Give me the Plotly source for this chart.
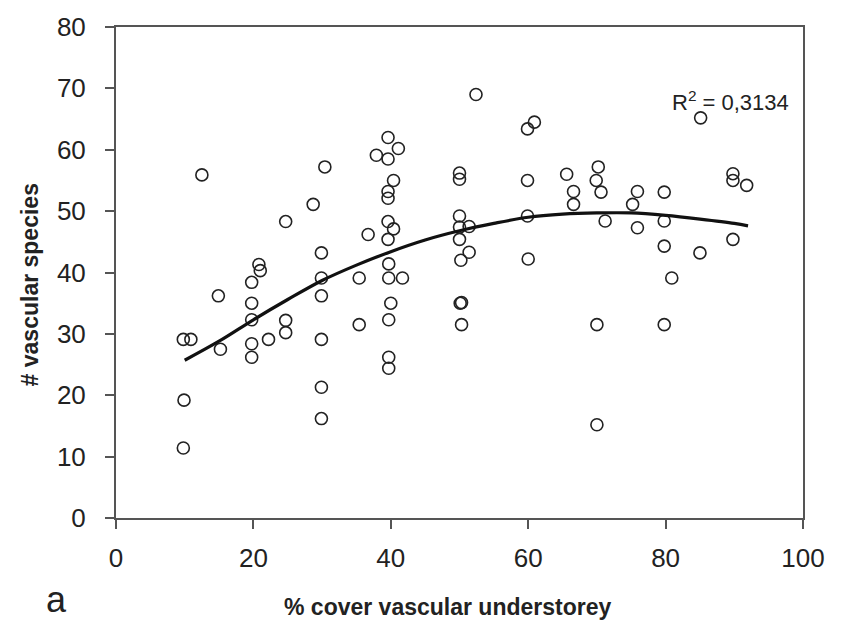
import plotly.graph_objects as go

# % cover vascular understorey (x) and # vascular species (y)
cover = [9.8, 9.9, 9.8, 10.9, 12.5, 14.9, 15.2, 19.75, 20.8, 21.0,
         19.75, 19.75, 19.75, 19.75, 22.2, 24.7, 24.7, 24.7, 28.7, 30.4,
         29.9, 29.9, 29.9, 29.9, 29.9, 29.9, 35.4, 35.4, 36.7, 37.9,
         39.6, 39.6, 41.1, 40.4, 39.6, 39.6, 39.6, 40.4, 39.6, 39.7,
         39.7, 41.7, 40.0, 39.7, 39.7, 39.7, 50.0, 50.0, 50.0, 50.0,
         51.4, 50.0, 51.4, 50.2, 50.1, 50.3, 50.3, 52.4, 60.9, 59.9,
         59.9, 59.9, 60.0, 65.6, 66.6, 66.6, 70.2, 69.9, 70.6, 71.2,
         70.0, 70.0, 75.9, 75.2, 75.9, 79.8, 79.8, 79.8, 80.9, 79.8,
         85.1, 85.0, 89.8, 89.8, 91.8, 89.8]
species = [11.4, 19.2, 29.1, 29.1, 55.9, 36.2, 27.5, 38.4, 41.3, 40.3,
           35.0, 32.3, 28.4, 26.2, 29.1, 48.3, 32.2, 30.2, 51.1, 57.2,
           43.2, 39.1, 36.2, 29.1, 21.3, 16.2, 39.1, 31.5, 46.2, 59.1,
           62.0, 58.5, 60.2, 55.0, 53.2, 52.1, 48.3, 47.1, 45.4, 41.4,
           39.1, 39.1, 35.0, 32.3, 26.2, 24.4, 56.2, 55.2, 49.2, 47.4,
           47.5, 45.4, 43.3, 42.0, 35.0, 35.1, 31.5, 69.0, 64.5, 63.4,
           55.0, 49.2, 42.2, 56.0, 53.2, 51.1, 57.2, 55.0, 53.1, 48.4,
           31.5, 15.2, 53.2, 51.1, 47.3, 53.1, 48.4, 44.3, 39.1, 31.5,
           65.2, 43.2, 56.1, 55.0, 54.2, 45.4]

# trend line
trend_x = [10, 15, 20, 25, 30, 35, 40, 45, 50, 55, 60, 65, 70, 75, 80, 85, 90, 92]
trend_y = [25.7, 28.8, 32.3, 35.6, 38.7, 41.2, 43.4, 45.3, 46.8, 48.0,
           49.0, 49.5, 49.7, 49.7, 49.3, 48.7, 48.0, 47.6]

x_ticks = [0, 20, 40, 60, 80, 100]
y_ticks = [0, 10, 20, 30, 40, 50, 60, 70, 80]

FONT = "Liberation Sans, Arial, sans-serif"
AX = "#555555"

fig = go.Figure()
fig.add_trace(go.Scatter(
    x=cover, y=species, mode="markers",
    marker=dict(symbol="circle-open", size=12, color="#222222",
                line=dict(width=1.6, color="#222222")),
    showlegend=False, hoverinfo="skip"))
fig.add_trace(go.Scatter(
    x=trend_x, y=trend_y, mode="lines",
    line=dict(color="#111111", width=3.2, shape="spline"),
    showlegend=False, hoverinfo="skip"))

fig.update_layout(
    width=843, height=625,
    margin=dict(l=116, r=40, t=22, b=107),
    paper_bgcolor="white", plot_bgcolor="white",
    font=dict(family=FONT, color="#222222"),
    xaxis=dict(range=[0, 100], tickvals=x_ticks, showgrid=False, zeroline=False,
               showline=True, linecolor=AX, linewidth=2, mirror=True,
               ticks="outside", ticklen=9, tickwidth=2, tickcolor=AX,
               tickfont=dict(size=26, family=FONT, color="#222222"),
               ticklabelstandoff=7),
    yaxis=dict(range=[0, 80], tickvals=y_ticks, showgrid=False, zeroline=False,
               showline=True, linecolor=AX, linewidth=2, mirror=True,
               ticks="outside", ticklen=9, tickwidth=2, tickcolor=AX,
               tickfont=dict(size=26, family=FONT, color="#222222"),
               ticklabelstandoff=14),
)

fig.add_annotation(text="<b>% cover vascular understorey</b>", xref="paper", yref="paper",
                   x=0.483, y=-0.181, xanchor="center", yanchor="middle", showarrow=False,
                   font=dict(size=23, family=FONT, color="#222222"))
fig.add_annotation(text="<b># vascular species</b>", xref="paper", yref="paper",
                   x=-0.125, y=0.474, xanchor="center", yanchor="middle", showarrow=False,
                   textangle=-90, font=dict(size=23, family=FONT, color="#222222"))
fig.add_annotation(text="a", xref="paper", yref="paper",
                   x=-0.086, y=-0.167, xanchor="center", yanchor="middle", showarrow=False,
                   font=dict(size=36, family=FONT, color="#222222"))
fig.add_annotation(text="R<sup>2</sup> = 0,3134", xref="paper", yref="paper",
                   x=0.895, y=0.85, xanchor="center", yanchor="middle", showarrow=False,
                   font=dict(size=22, family=FONT, color="#222222"))

fig.write_html("out.html")
